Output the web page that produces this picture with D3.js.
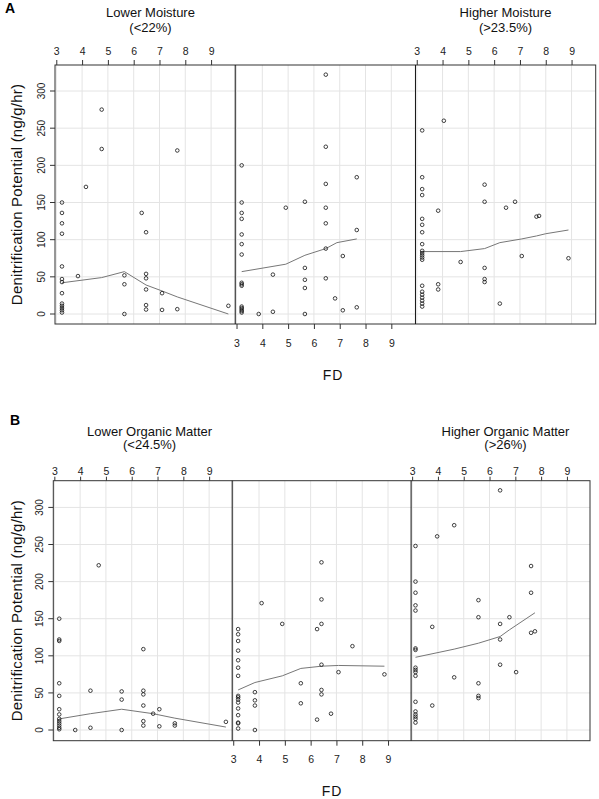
<!DOCTYPE html>
<html><head><meta charset="utf-8">
<script src="https://cdn.jsdelivr.net/npm/d3@7"></script>
<style>
body{margin:0;background:#fff}
text{font-family:"Liberation Sans",Arial,sans-serif}
</style>
</head><body>
<svg id="chart" width="599" height="799"></svg>
<script>
// ---------- tick values ----------
const fdTicks = [3,4,5,6,7,8,9];
const dpTicks = [0,50,100,150,200,250,300];

// ---------- Figure A : moisture ----------
const aLowFD  = [4.76,4.76,7.69,4.15,3.22,3.22,3.22,3.22,6.31,6.48,3.22,3.84,3.22,3.22,3.22,3.22,3.22,3.22,3.22,3.22,5.64,5.64,5.64,6.48,6.48,6.48,6.48,6.48,7.1,7.1,7.69,9.67];
const aLowDP  = [275,222,220,171,150,136,122,108,136,110,64,51,47,43,28,14,11,8,5,2,52,40,0,54,48,33,12,6,28,5.5,6.5,11];
const aLowFitFD = [3.22,4.76,5.64,6.48,7.1,7.69,9.67];
const aLowFit   = [42,49,57,39,31,23,0];

const aMidFD  = [6.46,6.46,3.2,7.66,6.46,3.2,5.65,4.91,6.46,3.2,3.2,6.46,7.66,3.2,3.2,6.46,3.2,7.12,5.65,4.41,3.2,3.2,3.2,5.65,6.46,5.65,6.82,3.2,3.2,3.2,3.2,3.2,4.41,3.86,7.12,7.66,5.65];
const aMidDP  = [322,225,200,184,175,150,151,143,143,136,128,122,113,107,94,88,80,78,62,53,42,40,38,46,48,35,21,10,8,6,4,2,3,0,5,9,0];
const aMidFitFD = [3.2,4.91,5.65,6.46,6.89,7.66];
const aMidFit   = [57,67,79,88,96,101];

const aHighFD = [4.05,3.21,3.21,5.63,3.21,3.21,5.63,6.81,6.46,3.83,7.64,7.74,3.21,3.21,3.21,3.21,3.21,3.21,3.21,3.21,3.21,7.07,8.88,4.7,5.63,5.63,5.63,3.83,3.83,3.21,3.21,3.21,3.21,3.21,3.21,3.21,6.22];
const aHighDP = [260,247,184,174,168,160,151,151,143,139,131,132,128,120,110,94,85,82,79,76,73,78,75,70,62,47,43,40,33,38,30,26,22,18,14,10,14];
const aHighFitFD = [3.21,4.7,5.63,6.22,7.07,7.64,8.0,8.88];
const aHighFit   = [84,84,88,96,101,105,108,113];

// ---------- Figure B : organic matter ----------
const bLowFD  = [4.72,3.19,3.19,3.19,6.45,3.19,4.4,5.61,6.45,6.45,3.19,5.61,6.45,3.19,7.07,6.83,3.19,3.19,3.19,3.19,3.19,3.19,3.19,6.45,6.45,7.07,7.67,7.67,3.81,4.4,5.61,9.65];
const bLowDP  = [222,150,122,120,109,63,53,52,53,48,46,41,33,28,28,22,21,15,12,9,6,3,1,12,6,5,9,6,0,3,0,11];
const bLowFitFD = [3.19,4.4,5.61,6.83,7.67,9.65];
const bLowFit   = [15,22,28,22,16,4];

const bMidFD  = [6.42,6.42,4.1,3.19,4.9,6.42,6.25,3.19,3.19,3.19,3.19,3.19,3.19,7.62,6.42,7.08,8.86,5.62,3.84,6.42,6.42,3.19,3.19,3.19,3.19,3.84,3.84,5.62,3.19,3.19,6.25,6.79,3.19,3.19,3.19,3.84];
const bMidDP  = [226,176,171,136,143,143,136,129,120,107,94,84,73,113,88,78,75,63,51,54,48,46,44,41,37,40,33,36,29,20,14,22,10,9,2,0];
const bMidFitFD = [3.19,3.84,4.9,5.62,6.42,7.08,8.86];
const bMidFit   = [54,64,73,83,86,87,86];

const bHighFD = [6.41,4.63,3.97,3.13,7.61,3.13,3.13,7.61,5.57,3.13,3.13,5.57,6.77,6.41,3.78,7.61,7.76,6.41,3.13,3.13,6.41,3.13,3.13,3.13,3.13,7.03,4.63,5.57,5.57,5.57,3.13,3.78,3.13,3.13,3.13,3.13,3.13];
const bHighDP = [323,276,261,248,221,200,185,185,175,168,161,152,152,143,139,131,133,122,110,108,88,84,81,78,73,78,71,63,46,43,38,33,25,21,18,15,10];
const bHighFitFD = [3.13,4.63,5.57,6.41,6.77,7.76];
const bHighFit   = [98,109,117,126,135,158];

// ---------- text ----------
const yLabel = "Denitrification Potential (ng/g/hr)";
const xLabel = "FD";
const titlesA = [["Lower Moisture","(<22%)"],null,["Higher Moisture","(>23.5%)"]];
const titlesB = [["Lower Organic Matter","(<24.5%)"],null,["Higher Organic Matter","(>26%)"]];

// ---------- layout ----------
const figures = [
  {tag:"A", left:55, right:595.7, top:65, bottom:324, xDom:[2.95,9.936], yDom:[-13.45,335],
   tagY:13, tagX:5, t1:17, t2:31.5, titleX:[150.5,null,505.5], topPad:5, botPad:11, topTick:5, xlabY:380, xlabX:333,
   titles:titlesA,
   panels:[[aLowFD,aLowDP,aLowFitFD,aLowFit],[aMidFD,aMidDP,aMidFitFD,aMidFit],[aHighFD,aHighDP,aHighFitFD,aHighFit]]},
  {tag:"B", left:53.3, right:590, top:480.7, bottom:740.7, xDom:[2.96,9.894], yDom:[-14.4,336],
   tagY:425, tagX:10, t1:435.5, t2:449, titleX:[149.6,null,505.5], topPad:2, botPad:10, topTick:4, xlabY:796, xlabX:332,
   titles:titlesB,
   panels:[[bLowFD,bLowDP,bLowFitFD,bLowFit],[bMidFD,bMidDP,bMidFitFD,bMidFit],[bHighFD,bHighDP,bHighFitFD,bHighFit]]}
];

const svg = d3.select("#chart");
const fmt = d3.format("d");
const tickFont = '"Liberation Sans Narrow","Liberation Sans",Arial,sans-serif';

figures.forEach(fig => {
  const pw = (fig.right - fig.left) / 3;
  const y = d3.scaleLinear().domain(fig.yDom).range([fig.bottom, fig.top]);
  const root = svg.append("g");

  fig.panels.forEach((p, i) => {
    const x0 = fig.left + i * pw;
    const x = d3.scaleLinear().domain(fig.xDom).range([x0, x0 + pw]);
    const g = root.append("g");
    // grid
    g.selectAll("line.gv").data(fdTicks).join("line").attr("class","gv")
      .attr("x1", d => x(d)).attr("x2", d => x(d))
      .attr("y1", fig.top).attr("y2", fig.bottom)
      .attr("stroke", "#e4e4e4").attr("stroke-width", 1);
    g.selectAll("line.gh").data(dpTicks).join("line").attr("class","gh")
      .attr("x1", x0).attr("x2", x0 + pw)
      .attr("y1", d => y(d)).attr("y2", d => y(d))
      .attr("stroke", "#e4e4e4").attr("stroke-width", 1);
    // fit line
    const fit = p[2].map((v, k) => [v, p[3][k]]);
    g.append("path").datum(fit)
      .attr("d", d3.line().x(d => x(d[0])).y(d => y(d[1])))
      .attr("fill", "none").attr("stroke", "#777").attr("stroke-width", 1);
    // points
    const pts = p[0].map((v, k) => [v, p[1][k]]);
    g.selectAll("circle").data(pts).join("circle")
      .attr("cx", d => x(d[0])).attr("cy", d => y(d[1])).attr("r", 1.8)
      .attr("fill", "none").attr("stroke", "#111").attr("stroke-width", 0.8);
    // axes
    if (i !== 1) {
      const ax = g.append("g").attr("transform", `translate(0,${fig.top})`)
        .call(d3.axisTop(x).tickValues(fdTicks).tickFormat(fmt).tickSize(fig.topTick).tickPadding(fig.topPad).tickSizeOuter(0));
      ax.select(".domain").remove();
      ax.selectAll("line").attr("stroke", "#333");
      ax.selectAll("text").attr("font-family", tickFont).attr("font-size", 10.5).attr("fill", "#222");
      // title
      const t = fig.titles[i];
      root.append("text").attr("x", fig.titleX[i]).attr("y", fig.t1).attr("text-anchor","middle")
        .attr("font-size", 13).attr("fill","#111").text(t[0]);
      root.append("text").attr("x", fig.titleX[i]).attr("y", fig.t2).attr("text-anchor","middle")
        .attr("font-size", 13).attr("fill","#111").text(t[1]);
    } else {
      const ax = g.append("g").attr("transform", `translate(0,${fig.bottom})`)
        .call(d3.axisBottom(x).tickValues(fdTicks).tickFormat(fmt).tickSize(5).tickPadding(fig.botPad).tickSizeOuter(0));
      ax.select(".domain").remove();
      ax.selectAll("line").attr("stroke", "#333");
      ax.selectAll("text").attr("font-family", tickFont).attr("font-size", 10.5).attr("fill", "#222");
    }
  });

  // left y axis
  const ya = root.append("g");
  ya.selectAll("line").data(dpTicks).join("line")
    .attr("x1", fig.left - 5).attr("x2", fig.left)
    .attr("y1", d => y(d)).attr("y2", d => y(d)).attr("stroke", "#333");
  ya.selectAll("text").data(dpTicks).join("text")
    .attr("transform", d => `translate(${fig.left - 10.5},${y(d)}) rotate(-90)`)
    .attr("text-anchor", "middle").attr("font-size", 10).attr("fill", "#222")
    .text(d => fmt(d));

  // borders
  root.append("rect").attr("x", fig.left).attr("y", fig.top)
    .attr("width", fig.right - fig.left).attr("height", fig.bottom - fig.top)
    .attr("fill", "none").attr("stroke", "#333").attr("stroke-width", 1);
  [1, 2].forEach(k => {
    root.append("line").attr("x1", fig.left + k * pw).attr("x2", fig.left + k * pw)
      .attr("y1", fig.top).attr("y2", fig.bottom).attr("stroke", "#111").attr("stroke-width", 1);
  });

  // labels
  root.append("text")
    .attr("transform", `translate(21.5,${(fig.top + fig.bottom) / 2}) rotate(-90)`)
    .attr("text-anchor", "middle").attr("font-size", 15).attr("letter-spacing", 0.2)
    .attr("fill", "#111").text(yLabel);
  root.append("text").attr("x", fig.xlabX).attr("y", fig.xlabY).attr("text-anchor", "middle")
    .attr("font-size", 14).attr("letter-spacing", 1).attr("fill", "#111").text(xLabel);
  root.append("text").attr("x", fig.tagX).attr("y", fig.tagY)
    .attr("font-size", 14).attr("font-weight", "bold").attr("fill", "#000").text(fig.tag);
});
</script>
</body></html>
